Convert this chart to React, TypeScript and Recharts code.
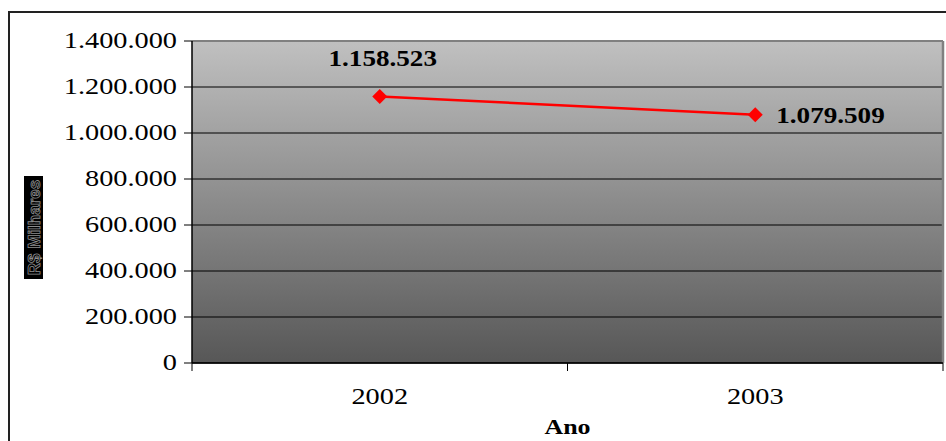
import React from "react";
import {
  LineChart,
  Line,
  XAxis,
  YAxis,
  CartesianGrid,
  ReferenceLine,
  LabelList,
} from "recharts";

const years = ["2002", "2003"];
const values = [1158523, 1079509];
const yTicks = [0, 200000, 400000, 600000, 800000, 1000000, 1200000, 1400000];

const data = years.map((year, i) => ({ pos: i + 0.5, year, value: values[i] }));

const SERIF = "'Liberation Serif', 'Times New Roman', serif";
const STRETCH = 1.18;

// 1158523 -> "1.158.523"
const fmt = (n: number) => String(Math.round(n)).replace(/\B(?=(\d{3})+(?!\d))/g, ".");

const YTick = (props: any) => {
  const { x, y, payload } = props;
  return (
    <g transform={`translate(${x},${y + 7}) scale(${STRETCH},1)`}>
      <text x={0} y={0} textAnchor="end" fontFamily={SERIF} fontSize={24} fill="#000">
        {fmt(payload.value)}
      </text>
    </g>
  );
};

const XTick = (props: any) => {
  const { x, y, payload } = props;
  const v = payload.value as number;
  if (Number.isInteger(v)) {
    return <line x1={x} x2={x} y1={y} y2={y + 8} stroke="#000" strokeWidth={1} />;
  }
  const label = years[Math.floor(v)];
  return (
    <g transform={`translate(${x},${y + 41}) scale(${STRETCH},1)`}>
      <text x={0} y={0} textAnchor="middle" fontFamily={SERIF} fontSize={24} fill="#000">
        {label}
      </text>
    </g>
  );
};

const Diamond = (props: any) => {
  const { cx, cy, index } = props;
  const r = 7.5;
  return (
    <polygon
      key={`d-${index}`}
      points={`${cx},${cy - r} ${cx + r},${cy} ${cx},${cy + r} ${cx - r},${cy}`}
      fill="#ff0000"
      stroke="none"
    />
  );
};

const ValueLabel = (props: any) => {
  const { x, y, index, value } = props;
  const first = index === 0;
  const tx = first ? x + 3 : x + 21;
  const ty = first ? y - 31 : y + 8;
  return (
    <g transform={`translate(${tx},${ty}) scale(${STRETCH},1)`}>
      <text
        x={0}
        y={0}
        textAnchor={first ? "middle" : "start"}
        fontFamily={SERIF}
        fontWeight="bold"
        fontSize={23}
        fill="#000"
      >
        {fmt(value)}
      </text>
    </g>
  );
};

const XTitle = (props: any) => {
  const { viewBox } = props;
  const cx = viewBox.x + viewBox.width / 2;
  return (
    <g transform={`translate(${cx},${viewBox.y + 71}) scale(${STRETCH},1)`}>
      <text x={0} y={0} textAnchor="middle" fontFamily={SERIF} fontWeight="bold" fontSize={22} fill="#000">
        Ano
      </text>
    </g>
  );
};

const YTitle = (props: any) => {
  const { viewBox } = props;
  const left = viewBox.x + 24;
  return (
    <g>
      <rect x={left} y={176} width={19} height={103} fill="#000" />
      <text
        transform={`translate(${left + 9.5},${227.5}) rotate(-90)`}
        x={0}
        y={6}
        textAnchor="middle"
        fontFamily="'Liberation Sans', Arial, sans-serif"
        fontWeight="bold"
        fontSize={17}
        fill="#000"
        stroke="#8c8c8c"
        strokeWidth={0.8}
      >
        R$ Milhares
      </text>
    </g>
  );
};

export default function App() {
  return (
    <div
      style={{
        position: "absolute",
        left: 0,
        top: 0,
        width: 946,
        height: 441,
        overflow: "hidden",
        background: "#fff",
      }}
    >
      <div
        style={{
          position: "absolute",
          left: 8,
          top: 11,
          width: 1000,
          height: 500,
          border: "2px solid #222",
        }}
      />
      <div style={{ position: "absolute", left: 0, top: 0 }}>
        <LineChart
          width={946}
          height={441}
          data={data}
          margin={{ top: 41, right: 3, bottom: 0, left: 0 }}
        >
          <defs>
            <linearGradient id="plotBg" x1="0" y1="0" x2="0" y2="1">
              <stop offset="0%" stopColor="#c0c0c0" />
              <stop offset="100%" stopColor="#575757" />
            </linearGradient>
          </defs>
          <CartesianGrid
            horizontal
            vertical={false}
            stroke="#000"
            strokeWidth={1}
            fill="url(#plotBg)"
            fillOpacity={1}
          />
          <XAxis
            dataKey="pos"
            type="number"
            domain={[0, 2]}
            ticks={[0, 0.5, 1, 1.5, 2]}
            interval={0}
            height={78}
            tickLine={false}
            tickSize={0}
            tickMargin={0}
            tick={<XTick />}
            axisLine={{ stroke: "#000", strokeWidth: 1.5 }}
            label={<XTitle />}
          />
          <YAxis
            type="number"
            domain={[0, 1400000]}
            ticks={yTicks}
            interval={0}
            width={192}
            tickSize={8}
            tickMargin={7}
            tickLine={{ stroke: "#000" }}
            tick={<YTick />}
            axisLine={{ stroke: "#000", strokeWidth: 1.5 }}
            label={<YTitle />}
          />
          <ReferenceLine y={1400000} stroke="#808080" strokeWidth={2} />
          <ReferenceLine x={2} stroke="#808080" strokeWidth={2.5} />
          <Line
            type="linear"
            dataKey="value"
            stroke="#ff0000"
            strokeWidth={2.5}
            dot={<Diamond />}
            activeDot={false}
            isAnimationActive={false}
          >
            <LabelList dataKey="value" content={<ValueLabel />} />
          </Line>
        </LineChart>
      </div>
    </div>
  );
}
